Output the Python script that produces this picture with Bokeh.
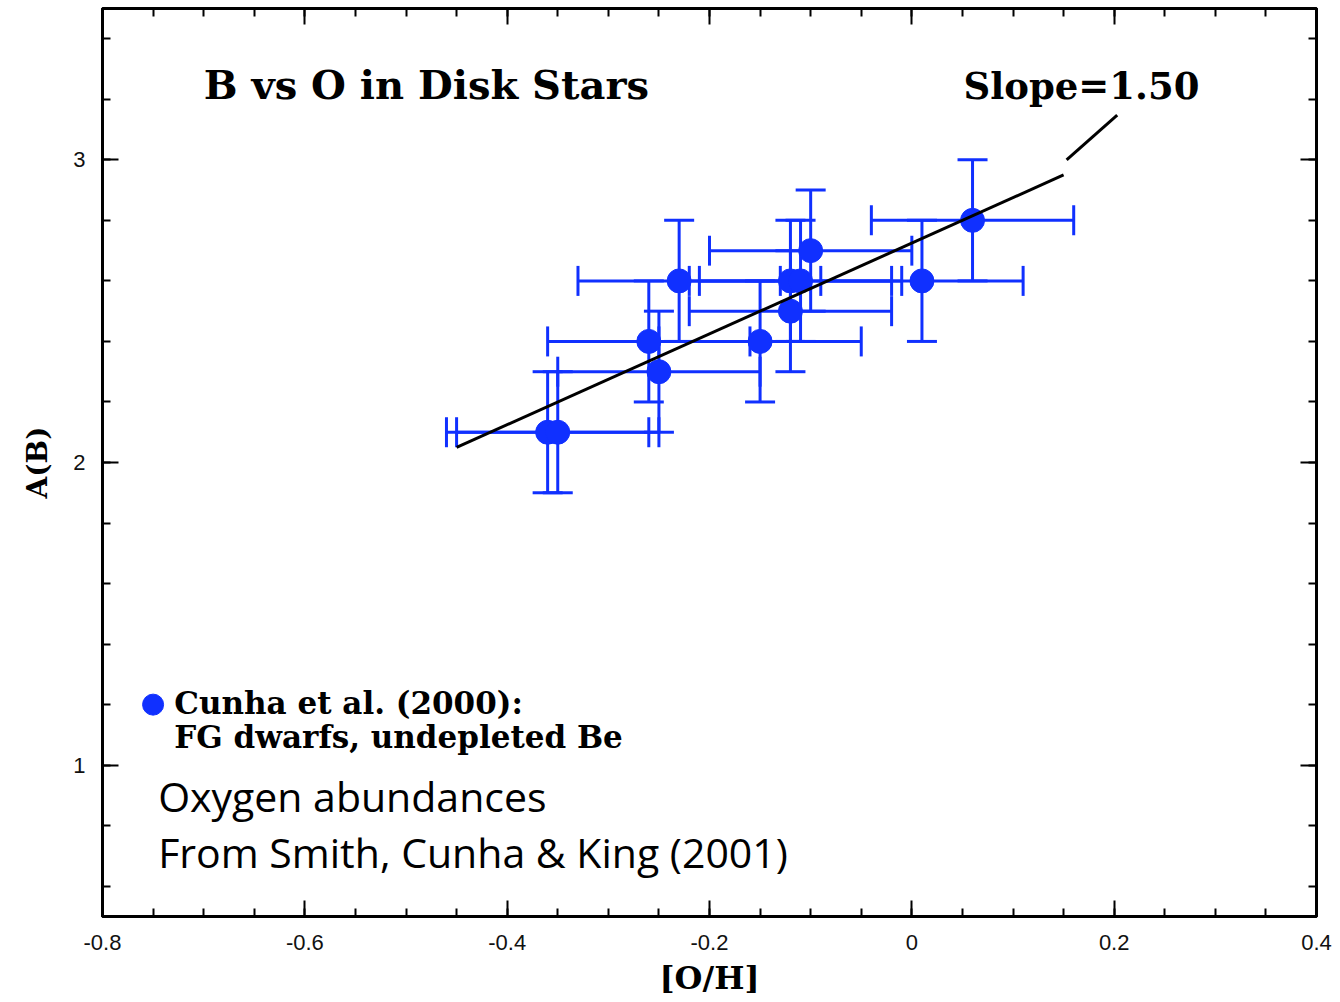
from bokeh.plotting import figure
from bokeh.models import (ColumnDataSource, Whisker, TeeHead, LinearAxis, FixedTicker,
                          CustomJSTickFormatter, Range1d, Label)
from bokeh.embed import file_html
from bokeh.resources import INLINE

# ---- data ----
oh = [0.06, 0.01, -0.10, -0.23, -0.12, -0.11, -0.12, -0.26, -0.15, -0.25, -0.36, -0.35]
ab = [2.80, 2.60, 2.70, 2.60, 2.60, 2.60, 2.50, 2.40, 2.40, 2.30, 2.10, 2.10]
oh_err = [0.10] * 12
ab_err = [0.20] * 12

fit_x = [-0.45, 0.15]
fit_y = [2.05, 2.95]

leader_x = [0.153, 0.203]
leader_y = [3.00, 3.148]

x_major = [-0.8, -0.6, -0.4, -0.2, 0.0, 0.2, 0.4]
x_minor = [round(-0.8 + 0.05 * i, 2) for i in range(25)]
y_major = [1, 2, 3]
y_minor = [round(0.6 + 0.2 * i, 1) for i in range(15)]

BLUE = "#1030ff"
SERIF = "DejaVu Serif"

src = ColumnDataSource(dict(
    x=oh, y=ab,
    xlo=[a - e for a, e in zip(oh, oh_err)], xhi=[a + e for a, e in zip(oh, oh_err)],
    ylo=[a - e for a, e in zip(ab, ab_err)], yhi=[a + e for a, e in zip(ab, ab_err)],
))

p = figure(width=1340, height=1002, output_backend="svg", toolbar_location=None,
           x_range=Range1d(-0.8, 0.4), y_range=Range1d(0.5, 3.5),
           min_border_left=102, min_border_right=24, min_border_top=8, min_border_bottom=86,
           x_axis_label="[O/H]", y_axis_label="A(B)")
p.grid.visible = False
p.outline_line_color = "black"
p.outline_line_width = 3
p.background_fill_color = "white"
p.border_fill_color = "white"

fmt = CustomJSTickFormatter(code="return String(Math.round(tick*10)/10)")
blank = CustomJSTickFormatter(code="return ''")

def style_axis(ax, labels=True):
    ax.axis_line_width = 3
    ax.axis_line_color = "black"
    ax.major_tick_in = 16
    ax.major_tick_out = 0
    ax.minor_tick_in = 8
    ax.minor_tick_out = 0
    ax.major_tick_line_width = 2
    ax.minor_tick_line_width = 2
    ax.major_tick_line_color = "black"
    ax.minor_tick_line_color = "black"
    if labels:
        ax.major_label_text_font = "Liberation Sans"
        ax.major_label_text_font_size = "22px"
        ax.major_label_text_color = "#111111"
    else:
        ax.formatter = blank
        ax.major_label_standoff = 0

xb = p.xaxis[0]
xb.ticker = FixedTicker(ticks=x_major, minor_ticks=x_minor)
xb.formatter = fmt
style_axis(xb)
xb.major_label_standoff = 18
xb.axis_label_text_font = SERIF
xb.axis_label_text_font_style = "bold"
xb.axis_label_text_font_size = "32px"
xb.axis_label_text_color = "black"
xb.axis_label_standoff = 6

yl = p.yaxis[0]
yl.ticker = FixedTicker(ticks=y_major, minor_ticks=y_minor)
yl.formatter = fmt
style_axis(yl)
yl.major_label_standoff = 17
yl.axis_label_text_font = SERIF
yl.axis_label_text_font_style = "bold"
yl.axis_label_text_font_size = "28px"
yl.axis_label_text_color = "black"
yl.axis_label_standoff = 16

xt = LinearAxis(ticker=FixedTicker(ticks=x_major, minor_ticks=x_minor))
style_axis(xt, labels=False)
p.add_layout(xt, "above")
yr = LinearAxis(ticker=FixedTicker(ticks=y_major, minor_ticks=y_minor))
style_axis(yr, labels=False)
p.add_layout(yr, "right")

# error bars
for dim, lo, hi, base in (("width", "xlo", "xhi", "y"), ("height", "ylo", "yhi", "x")):
    w = Whisker(source=src, base=base, lower=lo, upper=hi, dimension=dim,
                line_color=BLUE, line_width=3,
                upper_head=TeeHead(size=30, line_color=BLUE, line_width=3),
                lower_head=TeeHead(size=30, line_color=BLUE, line_width=3))
    p.add_layout(w)

p.scatter("x", "y", source=src, size=24, color=BLUE)

# fit line and leader
p.line(fit_x, fit_y, line_color="black", line_width=3)
p.line(leader_x, leader_y, line_color="black", line_width=3)

# annotations
p.add_layout(Label(x=-0.70, y=3.17, text="B vs O in Disk Stars", text_font=SERIF,
                   text_font_style="bold", text_font_size="40px", text_color="black"))
p.add_layout(Label(x=0.051, y=3.17, text="Slope=1.50", text_font=SERIF,
                   text_font_style="bold", text_font_size="37px", text_color="black"))

p.scatter([-0.75], [1.2], size=21, color=BLUE)
p.add_layout(Label(x=-0.729, y=1.145, text="Cunha et al. (2000):", text_font=SERIF,
                   text_font_style="bold", text_font_size="31px", text_color="black"))
p.add_layout(Label(x=-0.729, y=1.033, text="FG dwarfs, undepleted Be", text_font=SERIF,
                   text_font_style="bold", text_font_size="31px", text_color="black"))

p.add_layout(Label(x=-0.745, y=0.807, text="Oxygen abundances", text_font="Open Sans",
                   text_font_size="41px", text_color="black"))
p.add_layout(Label(x=-0.745, y=0.62, text="From Smith, Cunha & King (2001)", text_font="Open Sans",
                   text_font_size="41px", text_color="black"))

open("out.html", "w").write(file_html(p, INLINE))
